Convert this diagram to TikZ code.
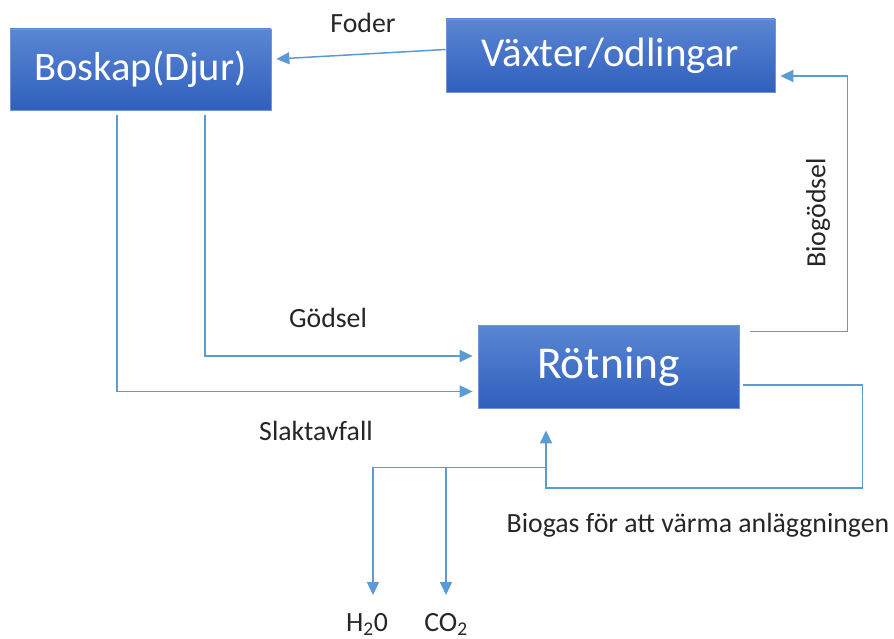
\documentclass[tikz,border=0pt]{standalone}
\usepackage{fontspec}
\setmainfont{Carlito}
\usetikzlibrary{arrows.meta}
\definecolor{ln}{HTML}{5B9BD5}
\definecolor{bxtop}{HTML}{5A86D3}
\definecolor{bxbot}{HTML}{305FBD}
\definecolor{bxdraw}{HTML}{7096DA}
\definecolor{txt}{HTML}{262626}
\begin{document}
\begin{tikzpicture}[x=1pt,y=-1pt,
 box/.style={draw=bxdraw, line width=0.8pt, top color=bxtop, bottom color=bxbot, text=white, inner sep=0pt, anchor=center},
 arr/.style={draw=ln, line width=1.5pt, -{Triangle[length=13pt,width=12pt]}},
 lnk/.style={draw=ln, line width=1.5pt},
 lbl/.style={text=txt, font=\fontsize{27.8}{32}\selectfont, inner sep=0pt}]
\useasboundingbox (0,0) rectangle (894,639);
% boxes
\node[box, minimum width=261pt, minimum height=81pt, font=\fontsize{40.5}{46}\selectfont] (bk) at (140.5,69.5) {Boskap(Djur)};
\node[box, minimum width=329pt, minimum height=73pt, font=\fontsize{41}{46}\selectfont] (vx) at (610.5,55.5) {Växter/odlingar};
\node[box, minimum width=261pt, minimum height=83pt, font=\fontsize{45.5}{50}\selectfont] (rt) at (608.5,366.5) {Rötning};
% labels
\node[lbl, anchor=base] (foder) at (363,33) {Foder};
\node[lbl, anchor=base] (godsel) at (328,327) {Gödsel};
\node[lbl, anchor=base] (slakt) at (316,440) {Slaktavfall};
\node[lbl, anchor=base] (biogas) at (698,532) {Biogas för att värma anläggningen};
\node[lbl, rotate=90] (biogod) at (818,213) {Biogödsel};
\node[lbl, anchor=base] (h2o) at (367,631) {H\textsubscript{2}0};
\node[lbl, anchor=base] (co2) at (446,631) {CO\textsubscript{2}};
% connectors
\draw[arr] ([yshift=6pt]vx.west) -- ([xshift=5pt,yshift=10.5pt]bk.east);
\draw[arr] ([xshift=64.5pt,yshift=-5pt]bk.south) |- ([xshift=-5pt,yshift=10.5pt]rt.west);
\draw[arr] ([xshift=-23.5pt,yshift=-5pt]bk.south) |- ([xshift=-5pt,yshift=-25pt]rt.west);
\draw[arr] ([xshift=11pt,yshift=-7pt]rt.north east) -- ++(97pt,0) |- ([xshift=5pt,yshift=-20.5pt]vx.east);
\draw[arr] ([xshift=4pt,yshift=-18.5pt]rt.east) -- ++(119pt,0) -- ++(0,-103pt) -| ([xshift=-62.5pt,yshift=-22pt]rt.south);
\coordinate (j) at ([xshift=-62.5pt,yshift=-59pt]rt.south);
\coordinate (th) at (373,595);
\coordinate (tc) at (446,595);
\draw[arr] (j) -| (th);
\draw[arr] (j -| tc) -- (tc);
\end{tikzpicture}
\end{document}
